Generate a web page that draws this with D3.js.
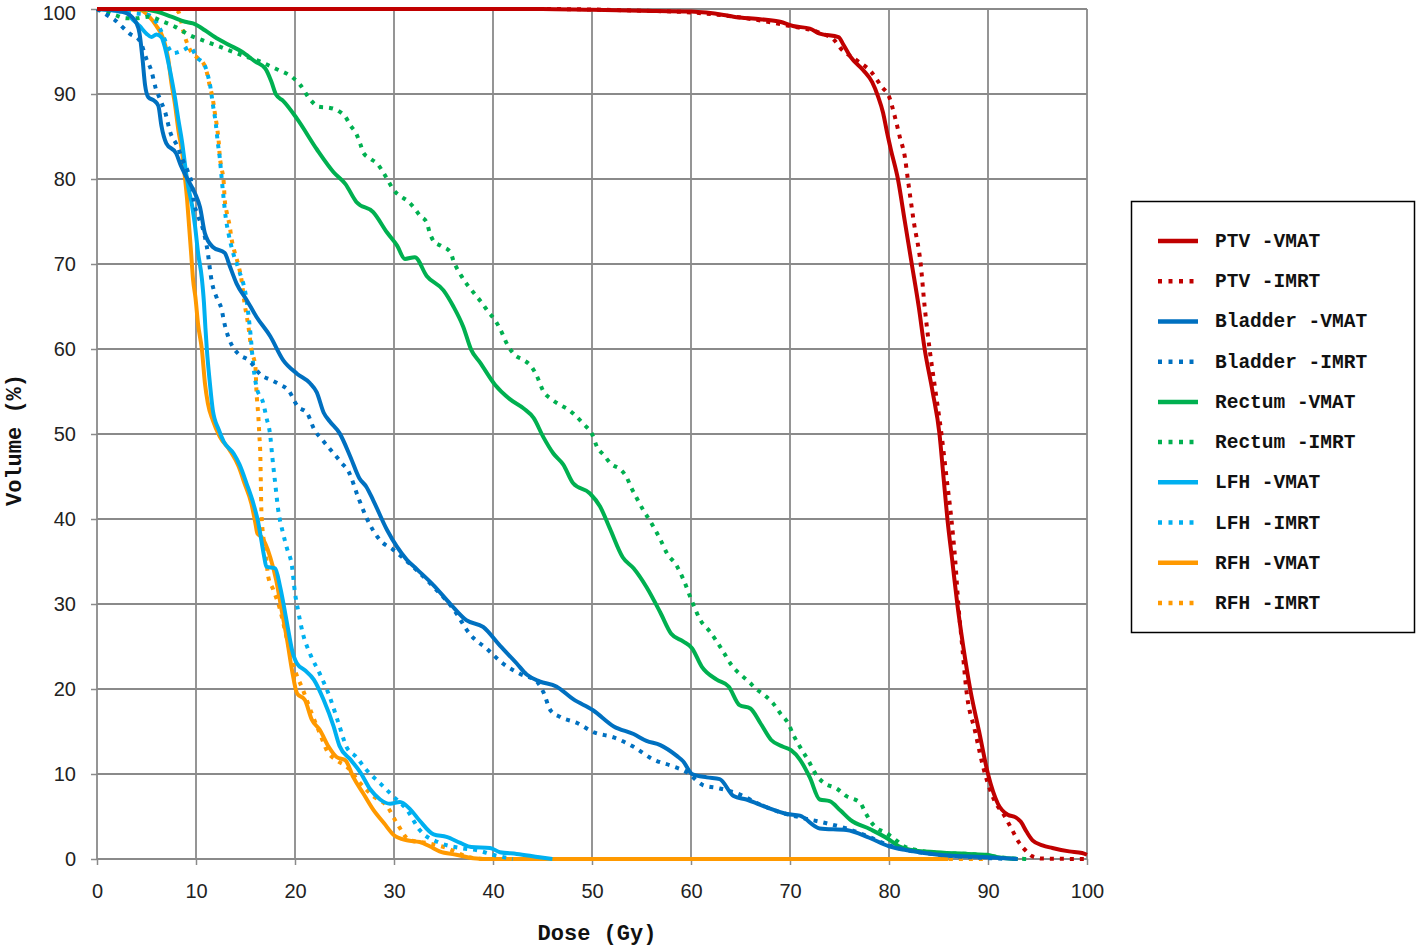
<!DOCTYPE html>
<html>
<head>
<meta charset="utf-8">
<script src="https://cdn.jsdelivr.net/npm/d3@7"></script>
<style>
  html, body { margin: 0; padding: 0; background: #fff; }
  svg { display: block; }
</style>
</head>
<body>
<svg id="chart" width="1418" height="946"></svg>
<script>
// ---------- DATA (dose Gy, volume %) ----------
const xTicks = [0, 10, 20, 30, 40, 50, 60, 70, 80, 90, 100];
const yTicks = [0, 10, 20, 30, 40, 50, 60, 70, 80, 90, 100];

const ptvVmat = [[0,100],[45,100],[50,99.9],[55,99.8],[60,99.7],[63.3,99.3],[64.3,99.1],[67,98.8],[69,98.5],[70.3,98],[72,97.7],[73,97.1],[74.9,96.7],[75.4,95.8],[76.1,94.4],[77.4,92.8],[78.3,91.4],[78.9,89.7],[79.4,87.8],[79.8,85.5],[80.2,83.4],[80.9,80],[81.6,75],[82.3,70],[83.0,65],[83.6,60],[84.4,55],[85.1,50],[85.5,45],[85.9,40],[86.4,35],[86.9,30],[87.5,25],[88.2,20],[89.1,15],[90.0,10],[91.0,6.5],[92.0,5.2],[92.8,4.9],[93.3,4.4],[93.9,3.2],[94.5,2.2],[95.5,1.6],[96.5,1.3],[98.2,0.9],[99.5,0.7],[100,0.5]];
const ptvImrt = [[0,100],[45,100],[55,99.8],[60,99.6],[65,99.0],[70,98.0],[73,97.2],[74.5,96.3],[75.1,95.4],[76.7,94],[78.2,92.6],[79.3,90.8],[80.0,89.7],[80.6,87.3],[81.1,84.9],[81.6,82.6],[81.9,80],[82.5,75],[83.2,70],[83.6,65],[84.1,60],[84.7,55],[85.3,50],[85.8,45],[86.3,40],[86.7,35],[87.0,30],[87.4,25],[87.8,20],[88.7,15],[89.7,10],[90.6,7],[91.7,5],[92.4,3.5],[93.1,2],[93.8,1],[94.5,0.3],[95.5,0.05],[100,0]];
const bladderVmat = [[0,100],[2,99.8],[3,99.5],[4.0,98.3],[4.3,97.1],[4.6,94.1],[4.85,91.1],[5.2,89.6],[5.8,89.2],[6.2,88.6],[6.5,86.3],[7.0,84.2],[8.0,83],[8.5,81.5],[9.0,80.3],[9.9,78.3],[10.4,76.7],[10.9,73.6],[11.7,72],[12.9,71.3],[13.4,69.8],[14.1,67.7],[15.1,65.8],[16.1,63.8],[17.5,61.5],[18.8,58.7],[20.2,57.1],[21.5,56],[22.2,54.9],[22.9,52.5],[23.5,51.5],[24.5,50.1],[25.6,47.3],[26.5,44.8],[27.2,43.8],[27.9,42.2],[29.3,38.7],[31.3,35.2],[32.3,34.1],[34.0,32.2],[35.7,30],[37.3,28.1],[39.0,27.3],[40.7,25.1],[42.4,23],[43.4,21.7],[44.7,20.9],[46.4,20.3],[48.1,18.8],[50.1,17.5],[52.2,15.6],[54.2,14.7],[55.5,13.9],[56.9,13.4],[58.6,12.1],[59.2,11.5],[60.1,10],[61.6,9.6],[62.9,9.4],[64.3,7.4],[65.6,7.0],[67.6,6.1],[69.7,5.3],[71.0,5.1],[73.0,3.6],[75.7,3.4],[78,2.5],[80,1.5],[82,1.0],[85,0.5],[90,0.2],[93,0]];
const bladderImrt = [[0,100],[1,99.3],[1.8,98.7],[3.3,97.1],[4.3,96.3],[5.0,94.1],[5.5,92.7],[5.9,90.8],[6.4,89.3],[6.9,87.8],[7.4,85.5],[8.1,83.9],[8.6,82.4],[9.2,80.8],[9.6,79.2],[9.75,77.6],[10.2,75.7],[10.8,73.7],[11.1,72.0],[11.6,67.9],[12.1,66],[12.6,64.6],[12.8,63.4],[13.3,61.3],[13.8,60.1],[14.4,59.3],[15.3,58.7],[16.6,56.9],[17.5,56.4],[18.5,55.8],[19.3,55.2],[20.3,53.2],[21.2,52.5],[22.0,50.4],[22.7,49.4],[23.4,48.4],[24.0,47.6],[24.7,46.6],[25.4,45.6],[26.4,42.5],[27.2,40.2],[28.6,37.5],[29.9,36.4],[31.9,34.4],[34.0,32.0],[36.0,29.4],[37.7,26.4],[39.4,24.7],[41.0,23.0],[42.7,21.8],[44.4,20.9],[45.1,19.6],[45.8,17.5],[46.8,16.7],[48.5,16],[50.2,14.9],[52.2,14.3],[54.2,13.2],[56.2,11.7],[58.2,10.9],[59.6,10.2],[61.2,8.7],[62.9,8.3],[64.9,7.6],[67.0,6.4],[69.0,5.5],[71.0,4.9],[73.7,4.2],[75.7,3.6],[78,2.6],[80,1.6],[82,1.0],[85,0.5],[90,0.1],[92,0]];
const rectumVmat = [[0,100],[4,100],[6.0,99.7],[7.5,99.1],[8.9,98.5],[9.7,98.3],[10.9,97.5],[11.9,96.7],[13.3,95.8],[14.6,95.0],[16.0,93.8],[17.0,93.0],[17.6,91.5],[18.1,89.9],[18.8,89.2],[20.2,87.1],[22.2,83.5],[23.9,80.8],[25.1,79.4],[26.2,77.3],[27.9,76.1],[29.3,73.7],[30.3,72.2],[31.1,70.6],[32.1,70.8],[33.3,68.6],[35.0,66.9],[36.0,65],[37.0,62.6],[37.8,59.9],[38.7,58.4],[40.2,55.8],[41.7,54.1],[43.1,53],[44.1,51.9],[45.1,49.6],[46.1,47.7],[47.1,46.4],[48.1,44.2],[49.8,43],[50.8,41.5],[51.8,38.9],[53.1,35.5],[54.2,34.2],[55.5,32],[56.9,29],[58.0,26.5],[59.2,25.6],[60.1,24.8],[61.1,22.6],[62.6,21.1],[63.8,20.3],[64.9,18.1],[66.0,17.7],[67.0,16],[68.1,14],[69.3,13.2],[70.1,12.8],[71.0,11.7],[72.0,9.6],[73.0,7],[74.0,6.8],[75.1,5.7],[76.1,4.6],[78.1,3.5],[80,2.3],[81,1.5],[82.1,1.1],[84.8,0.8],[88,0.6],[89.9,0.5],[91,0.2],[93,0]];
const rectumImrt = [[0,100],[1.8,99.3],[3.0,98.9],[4.0,98.9],[5.2,99.1],[6.7,98.5],[7.9,97.9],[9.4,96.9],[10.7,96.3],[12.1,95.7],[13.4,95.1],[14.8,94.5],[16.5,93.8],[18.0,93.0],[19.8,91.9],[20.5,91.1],[21.5,89.4],[22.4,88.5],[23.4,88.4],[24.4,88.0],[25.1,87.3],[25.6,86.3],[26.2,85.3],[26.6,84.1],[26.9,83.1],[27.6,82.4],[28.3,81.8],[28.9,80.8],[29.4,79.8],[29.9,78.8],[30.6,78.0],[31.4,77.4],[32.1,76.5],[32.6,75.7],[33.3,74.9],[33.6,73.7],[34.0,72.7],[34.8,72.1],[35.7,71.4],[36.0,70.4],[36.8,68.6],[37.5,67.4],[38.2,66.4],[38.9,65.4],[39.5,64.4],[40.2,63.4],[40.7,62.4],[41.5,60.4],[42.2,59.3],[43.1,58.7],[43.9,57.9],[44.4,56.9],[45.1,55],[45.9,54.1],[46.8,53.4],[47.7,52.8],[48.3,52.2],[49.2,51.1],[50.0,50.0],[50.5,48.5],[51.2,47.5],[52.0,46.4],[52.8,45.9],[53.5,44.9],[54.0,43.6],[54.5,42.5],[55.2,41.0],[55.9,39.7],[56.9,37.6],[57.6,35.9],[58.5,34.6],[59.3,32.7],[60.1,30.3],[61.0,28],[61.8,26.9],[62.6,25.6],[63.3,24.3],[64.1,22.8],[64.9,21.8],[65.8,20.9],[66.6,20],[67.5,19.2],[68.3,18.3],[69.1,17.0],[69.8,16],[70.3,14.7],[71.0,13.2],[71.8,11.7],[72.7,9.8],[73.5,8.9],[74.7,8.3],[75.7,7.4],[77.1,6.6],[77.6,5.5],[78.1,4.5],[78.8,3.6],[79.5,3.2],[80.3,2.6],[81.5,1.5],[83,1.0],[85,0.7],[88,0.6],[90,0.4],[92,0.1],[94,0]];
const lfhVmat = [[0,100],[3.0,99.6],[3.5,98.9],[4.3,98.0],[5.0,97.1],[5.5,96.7],[6.0,97.0],[6.5,96.7],[6.9,95.3],[7.4,92.6],[7.9,89.4],[8.2,87.1],[8.6,84.3],[8.9,81.6],[9.2,79.2],[9.6,76.9],[9.9,74.5],[10.2,71.4],[10.6,68.2],[10.8,65.5],[10.95,62.5],[11.1,59.9],[11.4,56],[11.7,52.8],[12.3,50.5],[12.8,49.1],[13.8,47.7],[14.4,46.4],[15.1,44.2],[15.8,41.8],[16.3,39.5],[16.6,37.5],[16.9,35.5],[17.1,34.4],[18.0,34.2],[18.5,32],[19.2,27.7],[19.7,24.6],[20.2,23],[21.0,22.2],[21.9,21.1],[22.9,18.7],[23.9,15.6],[24.5,13.3],[25.6,11.7],[26.6,10.2],[27.6,8.2],[28.6,7.0],[29.6,6.5],[30.6,6.7],[31.6,5.9],[32.6,4.5],[34.0,2.9],[35.3,2.6],[36.7,1.9],[37.8,1.4],[39.7,1.3],[40.7,0.8],[42.4,0.6],[44.7,0.2],[46,0]];
const lfhImrt = [[0,100],[3.8,99.5],[5.2,99.3],[6.4,97.6],[7.0,96.0],[7.7,94.8],[8.6,95.1],[9.4,95.5],[10.1,94.3],[10.9,93.3],[11.2,92.2],[11.5,90.5],[11.7,88.8],[12.0,86.5],[12.2,84.3],[12.4,82.5],[12.6,80],[12.8,77.6],[13.0,75.5],[13.3,73.5],[13.7,71.5],[14.3,69.4],[15.1,65.8],[15.5,61.8],[15.8,57.9],[16.1,55.6],[16.8,53.6],[17.1,52.0],[17.5,49.8],[17.7,47.4],[18.0,44.2],[18.3,41.1],[18.8,38.3],[19.2,36.5],[19.7,34.4],[20.0,31.3],[20.3,29.3],[20.8,26.5],[21.5,24.2],[22.5,21.8],[23.5,19.1],[24.5,15.6],[25.2,13.2],[26.2,12.0],[27.2,10.5],[28.6,8.9],[29.9,7.4],[31.3,5.8],[32.6,3.4],[34.6,1.9],[36.7,1.3],[38.5,1.0],[40,0.5],[42,0]];
const rfhVmat = [[0,100],[4.3,99.9],[5.2,99.2],[6.0,98.0],[6.7,96.5],[7.2,94.1],[7.5,91.4],[7.9,88.6],[8.2,85.9],[8.6,83.1],[8.9,80],[9.1,77.6],[9.3,74.5],[9.5,71.4],[9.7,68.2],[9.95,66],[10.2,63],[10.6,59.9],[10.9,56],[11.2,53.6],[11.7,51.6],[12.4,49.7],[13.4,48.1],[14.3,46.2],[14.9,44.2],[15.6,41.8],[16.0,39.5],[16.2,38.3],[16.6,37.9],[17.0,37.1],[17.5,35.5],[18.1,32.8],[18.6,29.6],[19.2,25.8],[19.7,22.2],[20.2,19.5],[21.0,18.7],[21.7,16.4],[22.5,15.2],[23.4,13.2],[24.2,12.0],[25.1,11.6],[25.9,9.6],[26.9,7.7],[27.9,5.8],[29.0,4.2],[30.0,2.8],[31.3,2.2],[32.6,2.0],[33.6,1.5],[34.6,0.9],[36.3,0.5],[38.0,0.1],[40,0],[86,0]];
const rfhImrt = [[0,100],[7.0,100],[8.2,99.7],[8.7,97.5],[9.0,96.3],[9.4,95.2],[10.1,94.3],[10.8,93.5],[11.1,92.5],[11.4,90.9],[11.7,89.4],[11.9,87.8],[12.1,86.3],[12.3,84.3],[12.4,82.7],[12.6,81.2],[12.8,79.6],[12.9,77.6],[13.1,76.1],[13.4,74.5],[13.6,72.9],[13.9,71.4],[14.3,69.8],[14.6,68.1],[14.9,65.4],[15.3,62.6],[15.6,59.9],[16.0,57.9],[16.1,55.2],[16.3,52.0],[16.4,49.8],[16.5,47.4],[16.55,44.2],[16.6,41.1],[16.8,37.9],[17.0,36.4],[17.3,33.2],[17.8,31.7],[18.5,29.3],[19.2,25.8],[20.0,22.2],[20.8,19.9],[21.7,17.1],[22.5,14.8],[23.2,12.8],[24.2,11.6],[25.2,10.9],[26.6,8.9],[27.9,7.4],[29.3,6.2],[30.3,4.2],[31.6,2.2],[33.3,1.9],[35.3,1.3],[37.3,0.3],[39,0],[90,0]];

const seriesNames = ["PTV -VMAT","PTV -IMRT","Bladder -VMAT","Bladder -IMRT","Rectum -VMAT","Rectum -IMRT","LFH -VMAT","LFH -IMRT","RFH -VMAT","RFH -IMRT"];
const seriesData = [ptvVmat, ptvImrt, bladderVmat, bladderImrt, rectumVmat, rectumImrt, lfhVmat, lfhImrt, rfhVmat, rfhImrt];
const seriesColors = ["#C00000","#C00000","#0070C0","#0070C0","#00B050","#00B050","#00B0F0","#00B0F0","#FF9900","#FF9900"];
const seriesDotted = [false,true,false,true,false,true,false,true,false,true];

const xTitle = "Dose (Gy)";
const yTitle = "Volume (%)";

// ---------- CHART ----------
const svg = d3.select("#chart");
svg.append("rect").attr("width",1418).attr("height",946).attr("fill","#fff");

const x = d3.scaleLinear().domain([0,100]).range([97,1087]);
const y = d3.scaleLinear().domain([0,100]).range([859,9]);
const gridColor = "#8a8a8a";
const tickFont = "'Liberation Sans Narrow','Arial Narrow','Liberation Sans',Arial,sans-serif";
const titleFont = "'Liberation Mono','DejaVu Sans Mono',monospace";

// gridlines
const grid = svg.append("g");
grid.selectAll("line.v").data(xTicks).join("line")
  .attr("x1", d => x(d)).attr("x2", d => x(d))
  .attr("y1", y(0)).attr("y2", y(100))
  .attr("stroke", gridColor).attr("stroke-width", 1.8);
grid.selectAll("line.h").data(yTicks).join("line")
  .attr("x1", x(0)).attr("x2", x(100))
  .attr("y1", d => y(d)).attr("y2", d => y(d))
  .attr("stroke", gridColor).attr("stroke-width", 1.8);

// axes
const xAxis = svg.append("g").attr("transform", `translate(0,${y(0)})`)
  .call(d3.axisBottom(x).tickValues(xTicks).tickSize(6).tickPadding(19).tickFormat(d3.format("d")));
const yAxis = svg.append("g").attr("transform", `translate(${x(0)},0)`)
  .call(d3.axisLeft(y).tickValues(yTicks).tickSize(6).tickPadding(15).tickFormat(d3.format("d")));
[xAxis, yAxis].forEach(a => {
  a.select(".domain").remove();
  a.selectAll(".tick line").attr("stroke", gridColor).attr("stroke-width", 1.5);
  a.selectAll(".tick text").attr("fill", "#222").style("font-family", tickFont).style("font-size", "20px");
});
// keep the top y label fully inside the picture
yAxis.selectAll(".tick text").filter(d => d === 100).attr("dy", "0.5em");

// curves
const line = d3.line().x(d => x(d[0])).y(d => y(d[1])).curve(d3.curveMonotoneX);
const order = d3.range(seriesData.length).reverse();
const curves = svg.append("g");
order.forEach(i => {
  curves.append("path")
    .datum(seriesData[i])
    .attr("d", line)
    .attr("fill", "none")
    .attr("stroke", seriesColors[i])
    .attr("stroke-width", 4)
    .attr("stroke-linejoin", "round")
    .attr("stroke-dasharray", seriesDotted[i] ? "4 6" : null);
});

// axis titles
svg.append("text").attr("x", 597).attr("y", 940).attr("text-anchor","middle")
  .style("font-family", titleFont).style("font-weight","bold").style("font-size","22px")
  .attr("fill","#111").text(xTitle);
svg.append("text").attr("transform", `translate(21,${y(50)+6}) rotate(-90)`).attr("text-anchor","middle")
  .style("font-family", titleFont).style("font-weight","bold").style("font-size","22px")
  .attr("fill","#111").text(yTitle);

// legend
const lg = svg.append("g");
lg.append("rect").attr("x",1131.5).attr("y",201.5).attr("width",283).attr("height",431)
  .attr("fill","#fff").attr("stroke","#000").attr("stroke-width",1.5);
const ly = d3.scaleLinear().domain([0, seriesNames.length-1]).range([241, 603]);
seriesNames.forEach((name, i) => {
  const row = lg.append("g");
  row.append("line").attr("x1",1158).attr("x2", seriesDotted[i] ? 1196 : 1198)
    .attr("y1", ly(i)).attr("y2", ly(i))
    .attr("stroke", seriesColors[i]).attr("stroke-width", 4.5)
    .attr("stroke-dasharray", seriesDotted[i] ? "4 6.5" : null);
  row.append("text").attr("x",1215).attr("y", ly(i)+6)
    .style("font-family", titleFont).style("font-weight","bold").style("font-size","19.5px")
    .attr("fill","#111").text(name);
});
</script>
</body>
</html>
